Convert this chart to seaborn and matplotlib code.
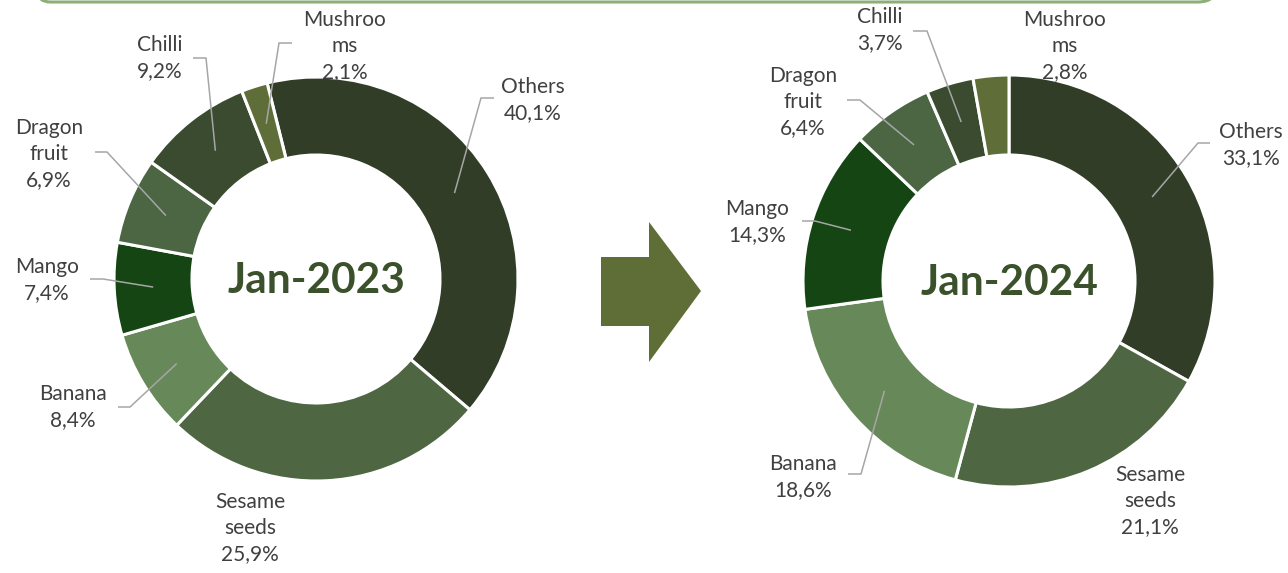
import numpy as np
import matplotlib
matplotlib.use("Agg")
import matplotlib.pyplot as plt
import matplotlib.patches as mpatches
import seaborn as sns

# data
categories = ["Others", "Sesame seeds", "Banana", "Mango", "Dragon fruit", "Chilli", "Mushrooms"]
label_names = ["Others", "Sesame\nseeds", "Banana", "Mango", "Dragon\nfruit", "Chilli", "Mushroo\nms"]
share_2023 = [40.1, 25.9, 8.4, 7.4, 6.9, 9.2, 2.1]
share_2024 = [33.1, 21.1, 18.6, 14.3, 6.4, 3.7, 2.8]
periods = ["Jan-2023", "Jan-2024"]

colors = sns.color_palette(["#323D28", "#4E6642", "#678959", "#154513",
                            "#4C6643", "#3A4B30", "#5F6D38"])

W, H = 1288, 573


def Y(py):
    return H - py


sns.set_theme(style="white")
plt.rcParams["font.family"] = ["Lato", "DejaVu Sans"]

fig = plt.figure(figsize=(W / 100, H / 100), dpi=100)
ax = fig.add_axes([0, 0, 1, 1])

# donut layout: centre (px), outer radius, inner radius, first slice angle (deg clockwise from top)
donuts = [
    dict(values=share_2023, cx=316, cy=279, R=202, r=124, start=-14,
         text_xy=[(533, 100), (250, 528), (73, 407), (47, 280), (49, 154), (160, 58), (345, 46)],
         elbow=[(494, 481, 98), None, (118, 130, 407), (90, 103, 279), (95, 107, 152),
                (193, 206, 58), (292, 279, 43)],
         title_xy=(316, 293)),
    dict(values=share_2024, cx=1009, cy=281, R=206, r=126, start=0,
         text_xy=[(1251, 145), (1150, 501), (803, 477), (757, 222), (803, 102), (880, 30), (1065, 46)],
         elbow=[(1210, 1198, 143), None, (848, 861, 474), (802, 815, 221), (847, 860, 100),
                (913, 927, 31), None],
         title_xy=(1009, 295)),
]

label_color = "#404040"
leader_color = "#A6A6A6"

for d, period in zip(donuts, periods):
    vals = np.array(d["values"])
    ax.pie(vals, colors=colors, startangle=90 - d["start"], counterclock=False,
           radius=d["R"], center=(d["cx"], Y(d["cy"])), frame=True,
           wedgeprops=dict(width=d["R"] - d["r"], edgecolor="white", linewidth=2.2))

    cum = np.cumsum(vals) - vals / 2
    mid = np.deg2rad(d["start"] + cum / vals.sum() * 360)
    rm = (d["R"] + d["r"]) / 2
    for i, v in enumerate(vals):
        tx, ty = d["text_xy"][i]
        txt = label_names[i] + "\n" + f"{v:.1f}".replace(".", ",") + "%"
        ax.text(tx, Y(ty), txt, ha="center", va="center", fontsize=15,
                color=label_color, linespacing=1.4, zorder=5)
        if d["elbow"][i] is not None:
            x0, x1, ey = d["elbow"][i]
            axp = d["cx"] + rm * np.sin(mid[i])
            ayp = d["cy"] - rm * np.cos(mid[i])
            ax.plot([x0, x1, axp], [Y(ey), Y(ey), Y(ayp)], color=leader_color,
                    lw=1.1, zorder=4, solid_capstyle="butt")

    ax.text(d["title_xy"][0], Y(d["title_xy"][1]), period, ha="center", va="baseline",
            fontsize=30.5, fontweight="bold", color="#3A512B", zorder=5)

# arrow between the donuts
arrow = mpatches.Polygon([(601, Y(257)), (649, Y(257)), (649, Y(222)), (701, Y(291)),
                          (649, Y(362)), (649, Y(326)), (601, Y(326))],
                         closed=True, facecolor="#5F6D37", edgecolor="none")
ax.add_patch(arrow)

# top rounded box edge (cut off by the image border)
box = mpatches.FancyBboxPatch((30, Y(2)), 1188, 60,
                              boxstyle="round,pad=0,rounding_size=20",
                              facecolor="none", edgecolor="#8DAE78", lw=2.2, clip_on=False)
ax.add_patch(box)

ax.set_xlim(0, W)
ax.set_ylim(0, H)
ax.set_aspect("auto")
ax.axis("off")

plt.savefig("out.png", dpi=100)
